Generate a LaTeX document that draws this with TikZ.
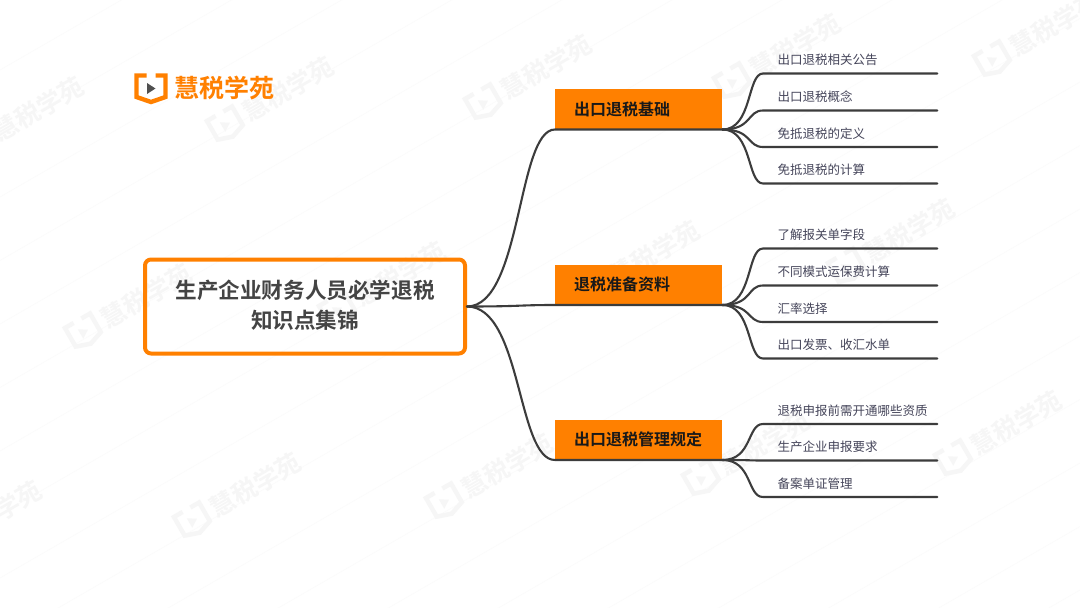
\documentclass[tikz,border=0pt]{standalone}
\usepackage{fontspec}
\setmainfont{Noto Sans CJK SC}
\newfontfamily\cjkb{Noto Sans CJK SC Bold}
\definecolor{brand}{HTML}{FF8000}
\definecolor{wmk}{HTML}{F6F6F6}
\definecolor{wline}{HTML}{FBFBFB}
\definecolor{ink}{HTML}{3C3C3C}
\definecolor{titletxt}{HTML}{444444}
\definecolor{leaftxt}{HTML}{45455A}
\newcommand{\bookicon}[2]{%
  \draw[#1,line width=4.4pt,line join=miter] (-4.5,-13) -- (-14.5,-13) -- (-14.5,8.5) -- (0,13.5) -- (14.5,8.5) -- (14.5,-13) -- (4.5,-13);
  \fill[#2] (-4,-5.5) -- (-4,5.5) -- (4.5,0) -- cycle;}
\newcommand{\wmark}[3]{%
  \begin{scope}[shift={(#2,#3)},rotate=30]
    \bookicon{wmk}{wmk}
    \node[anchor=west,transform shape,text=wmk,font=\cjkb\fontsize{25}{25}\selectfont,inner sep=0pt] (wm#1) at (22,0) {慧税学苑};
  \end{scope}}
\tikzset{
  root/.style={draw=brand,line width=4pt,rounded corners=6pt,text=titletxt,font=\cjkb\fontsize{21.6}{30}\selectfont,align=center,minimum width=320pt,minimum height=94pt,inner sep=0pt},
  mainbox/.style={fill=brand,text=black!90,font=\cjkb\fontsize{16}{16}\selectfont,anchor=south west,minimum width=167pt,minimum height=40pt,inner sep=0pt,text width=129pt,align=left},
  leaf/.style={text=leaftxt,font=\fontsize{12.5}{12.5}\selectfont,anchor=south west,minimum width=174pt,minimum height=27pt,inner xsep=14.5pt,inner ysep=0pt,text width=145pt,align=left},
  link/.style={draw=ink,line width=2.1pt,line cap=round}
}
\newcommand{\linkup}[2]{\draw[link] (#1.south east) .. controls +(30,0) and +(-16,0) .. (#2.south west) -- (#2.south east);}
\begin{document}
\begin{tikzpicture}[x=1pt,y=-1pt]
\useasboundingbox (0,0) rectangle (1080,608);
\fill[white] (0,0) rectangle (1080,608);
% faint diagonal lines of the watermark layer
\begin{scope}
\clip (0,0) rectangle (1080,608);
\foreach \c in {70,133.5,...,1240}{
  \draw[wline,line width=0.6pt] (0,\c) -- (1080,\c-623);
}
\end{scope}
% faint watermarks
\wmark{a}{-24}{145}\wmark{b}{226}{125}\wmark{c}{484}{103}\wmark{d}{733}{82}\wmark{e}{993}{60}
\wmark{f}{84}{332}\wmark{g}{338}{310}\wmark{h}{592}{289}\wmark{i}{847}{267}
\wmark{j}{193}{521}\wmark{k}{445}{502}\wmark{l}{702}{479}\wmark{m}{954}{459}
\wmark{n}{-66}{549}
% logo
\begin{scope}[shift={(151,88.5)}]
  \bookicon{brand}{ink!90}
\end{scope}
\node[anchor=west,text=brand,font=\cjkb\fontsize{25}{25}\selectfont,inner sep=0pt] (logo) at (174.5,88) {慧税学苑};
% nodes
\node[root] (r) at (305,306.5) {生产企业财务人员必学退税\\知识点集锦\rule[-4.6pt]{0pt}{1pt}};
\node[mainbox] (m1) at (555,129.5) {出口退税基础};
\node[mainbox] (m2) at (555,305) {退税准备资料};
\node[mainbox] (m3) at (555,460) {出口退税管理规定};
\node[leaf] (a1) at (763,73.5) {出口退税相关公告};
\node[leaf] (a2) at (763,110.5) {出口退税概念};
\node[leaf] (a3) at (763,147) {免抵退税的定义};
\node[leaf] (a4) at (763,183.5) {免抵退税的计算};
\node[leaf] (b1) at (763,248.5) {了解报关单字段};
\node[leaf] (b2) at (763,285.5) {不同模式运保费计算};
\node[leaf] (b3) at (763,322) {汇率选择};
\node[leaf] (b4) at (763,358.5) {出口发票、收汇水单};
\node[leaf] (c1) at (763,424) {退税申报前需开通哪些资质};
\node[leaf] (c2) at (763,460.5) {生产企业申报要求};
\node[leaf] (c3) at (763,497) {备案单证管理};
% connectors
\foreach \m in {m1,m2,m3}{
  \draw[link] (r.east) .. controls +(55,0) and +(-38,0) .. (\m.south west) -- (\m.south east);
}
\linkup{m1}{a1}\linkup{m1}{a2}\linkup{m1}{a3}\linkup{m1}{a4}
\linkup{m2}{b1}\linkup{m2}{b2}\linkup{m2}{b3}\linkup{m2}{b4}
\linkup{m3}{c1}\linkup{m3}{c2}\linkup{m3}{c3}
\end{tikzpicture}
\end{document}
